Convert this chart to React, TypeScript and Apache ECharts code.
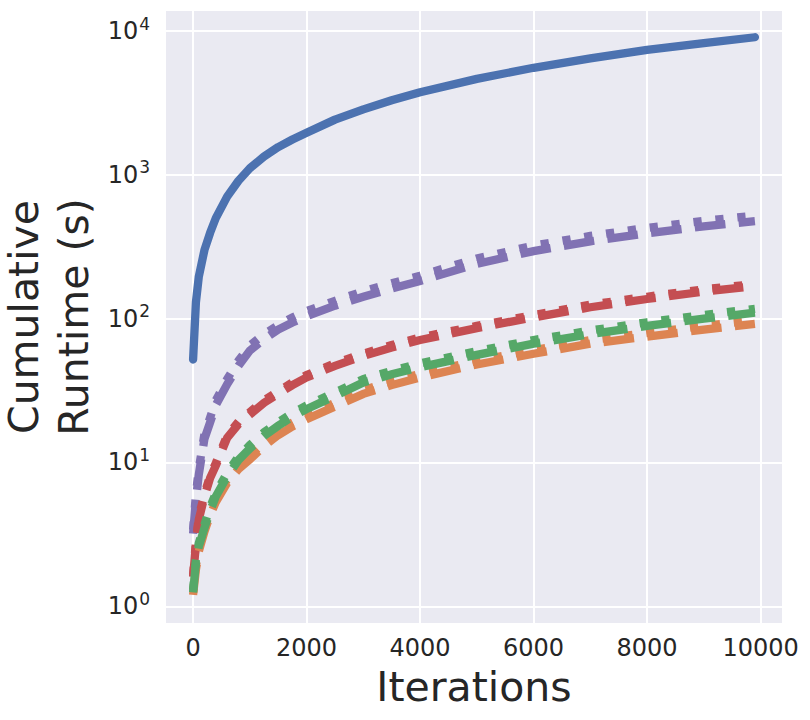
import React, { useEffect, useRef } from "react";
import * as echarts from "echarts";

// Iterations sampled along the x axis
const ITERATIONS = [0, 50, 100, 200, 300, 400, 600, 800, 1000, 1250, 1500, 1750, 2000, 2500, 3000, 3500, 4000, 5000, 6000, 7000, 8000, 9000, 9900];

// Cumulative runtime (s)
const BLUE_SOLID = [52, 130, 195, 300, 395, 500, 705, 910, 1110, 1340, 1560, 1760, 1960, 2420, 2850, 3300, 3750, 4650, 5550, 6450, 7400, 8250, 9050];
const PURPLE_DASHED = [3.2, 5.5, 8.2, 14.6, 19, 25, 35, 47, 60, 72, 84, 94, 104, 123, 142, 162, 183, 240, 295, 345, 392, 438, 476];
const PURPLE_DOTTED = [3.4, 6.0, 9.0, 15.8, 20.5, 27, 38, 51, 65, 78, 90, 102, 113, 133, 155, 176, 199, 262, 322, 376, 428, 478, 520];
const RED_DASHED = [1.6, 2.7, 4.0, 5.8, 7.8, 9.5, 14.8, 18.5, 21.5, 26, 30, 34.5, 39, 47, 55, 63, 71, 86, 102, 120, 137, 154, 168];
const RED_DOTTED = [1.65, 2.8, 4.2, 6.0, 8.1, 9.9, 15.4, 19.2, 22.4, 27, 31.2, 36, 40.5, 49, 57, 65.5, 74, 89, 106, 125, 142, 160, 174];
const ORANGE_DASHED = [1.2, 1.8, 2.4, 3.3, 4.3, 5.3, 7.2, 9.0, 10.5, 13, 15.5, 17.8, 20, 24.5, 30, 34.5, 39, 48, 57, 67, 75, 84, 92];
const ORANGE_DOTTED = [1.25, 1.9, 2.55, 3.5, 4.55, 5.6, 7.6, 9.5, 11.1, 13.8, 16.4, 18.9, 21.2, 26, 31.8, 36.6, 41.3, 50.9, 60.4, 71, 79.5, 89, 97.5];
const GREEN_DASHED = [1.25, 2.0, 2.6, 3.5, 4.6, 5.8, 8.0, 10.4, 12.5, 15.3, 18, 20.8, 23.5, 29, 36, 41, 46, 56, 67, 78, 89, 100, 110];
const GREEN_DOTTED = [1.3, 2.1, 2.75, 3.7, 4.9, 6.1, 8.5, 11.0, 13.2, 16.2, 19.1, 22, 24.9, 30.7, 38, 43.4, 48.8, 59.4, 71, 82.7, 94.3, 106, 117];

const X_TICKS = [0, 2000, 4000, 6000, 8000, 10000];

const FONT = "DejaVu Sans";
const TEXT = "#262626";

const LW = 8.3;
const DASH = [30.8, 13.3];
const DOT = [8.3, 13.75];

function pts(ys: number[]) {
  return ITERATIONS.map((x, i) => [x, ys[i]]);
}

function lineSeries(name: string, ys: number[], color: string, type: any, cap: string) {
  return {
    name,
    type: "line",
    data: pts(ys),
    showSymbol: false,
    symbol: "none",
    silent: true,
    lineStyle: { color, width: LW, type, cap, join: cap === "round" ? "round" : "miter" },
  };
}

export default function App() {
  const ref = useRef<HTMLDivElement>(null);
  useEffect(() => {
    const chart = echarts.init(ref.current!, undefined, { renderer: "svg" });
    const option: any = {
      animation: false,
      textStyle: { fontFamily: FONT },
      grid: {
        left: 165,
        right: 27,
        top: 10,
        bottom: 96,
        containLabel: false,
        outerBoundsMode: "none",
        show: true,
        backgroundColor: "#EAEAF2",
        borderWidth: 0,
      },
      xAxis: {
        type: "value",
        min: -495,
        max: 10395,
        minInterval: 2000,
        maxInterval: 2000,
        name: "Iterations",
        nameLocation: "middle",
        nameGap: 42,
        nameMoveOverlap: false,
        nameTextStyle: { fontSize: 41, color: TEXT, fontFamily: FONT },
        axisLine: { show: false },
        axisTick: { show: false },
        axisLabel: {
          show: true,
          fontSize: 24,
          color: TEXT,
          fontFamily: FONT,
          margin: 12,
          showMinLabel: false,
          showMaxLabel: false,
          formatter: (v: number) => (X_TICKS.includes(Math.round(v)) ? String(Math.round(v)) : ""),
        },
        splitLine: { show: true, lineStyle: { color: "#ffffff", width: 2 } },
      },
      yAxis: {
        type: "log",
        logBase: 10,
        min: 0.753,
        max: 14000,
        name: "Cumulative\nRuntime (s)",
        nameLocation: "middle",
        nameGap: 66,
        nameMoveOverlap: false,
        nameTextStyle: { fontSize: 41, lineHeight: 50, color: TEXT, fontFamily: FONT },
        axisLine: { show: false },
        axisTick: { show: false },
        axisLabel: {
          show: true,
          margin: 15,
          color: TEXT,
          fontFamily: FONT,
          showMinLabel: false,
          showMaxLabel: false,
          formatter: (v: number) => {
            const e = Math.round(Math.log10(v));
            if (Math.abs(Math.log10(v) - e) > 0.01) return "";
            return `{b|10}{s|${e}}`;
          },
          rich: {
            b: { fontSize: 24, color: TEXT, fontFamily: FONT },
            s: { fontSize: 17, color: TEXT, fontFamily: FONT, padding: [0, 0, 15, 1] },
          },
        },
        splitLine: { show: true, lineStyle: { color: "#ffffff", width: 2 } },
      },
      series: [
        lineSeries("blue", BLUE_SOLID, "#4C72B0", "solid", "round"),
        lineSeries("purple dotted", PURPLE_DOTTED, "#8172B3", DOT, "butt"),
        lineSeries("purple dashed", PURPLE_DASHED, "#8172B3", DASH, "butt"),
        lineSeries("red dotted", RED_DOTTED, "#C44E52", DOT, "butt"),
        lineSeries("red dashed", RED_DASHED, "#C44E52", DASH, "butt"),
        lineSeries("orange dotted", ORANGE_DOTTED, "#DD8452", DOT, "butt"),
        lineSeries("orange dashed", ORANGE_DASHED, "#DD8452", DASH, "butt"),
        lineSeries("green dotted", GREEN_DOTTED, "#55A868", DOT, "butt"),
        lineSeries("green dashed", GREEN_DASHED, "#55A868", DASH, "butt"),
      ],
    };
    chart.setOption(option);
    return () => chart.dispose();
  }, []);
  return (
    <div
      ref={ref}
      style={{ position: "absolute", left: 0, top: 0, width: 810, height: 720 }}
    />
  );
}
